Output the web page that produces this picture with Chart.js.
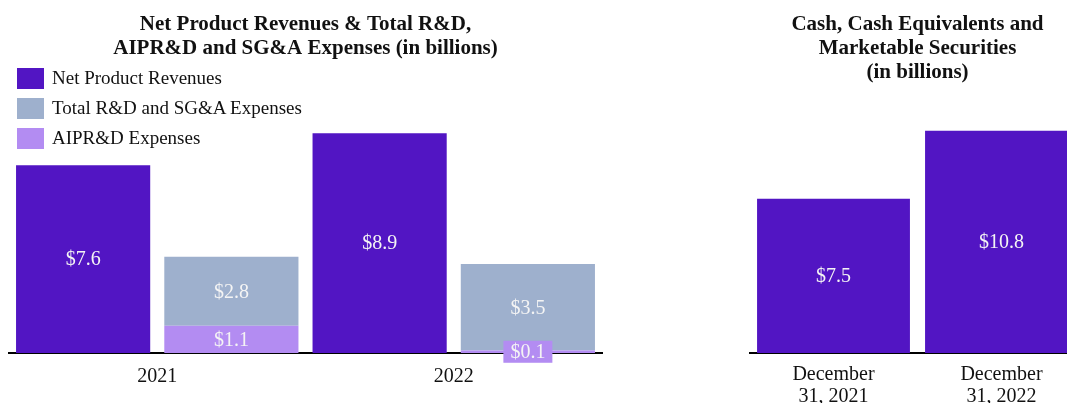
<!DOCTYPE html>
<html>
<head>
<meta charset="utf-8">
<script src="https://cdn.jsdelivr.net/npm/chart.js@4.4.1/dist/chart.umd.min.js"></script>
<style>
  html, body { margin: 0; padding: 0; background: #fff; overflow: hidden; }
  body { width: 1067px; height: 403px; position: relative; font-family: 'Liberation Serif', 'Times New Roman', serif; }
  canvas { position: absolute; top: 0; }
  #revChart { left: 0; }
  #cashChart { left: 740px; }
  .legend { position: absolute; left: 17px; top: 63px; }
  .legend-item { display: flex; align-items: center; height: 30px; }
  .legend-item span.box { width: 27px; height: 21px; margin-right: 8px; flex: none; }
  .legend-item span.txt { font-size: 19px; color: #111; white-space: nowrap; }
</style>
</head>
<body>
<canvas id="revChart" width="618" height="403"></canvas>
<canvas id="cashChart" width="360" height="403"></canvas>
<div class="legend" id="revLegend"></div>

<script>
// data
const years = ['2021', '2022'];
const netProductRevenues = [7.6, 8.9];
const rdSgaExpenses = [2.8, 3.5];
const aiprdExpenses = [1.1, 0.1];

const cashDates = [['December', '31, 2021'], ['December', '31, 2022']];
const cashBalances = [7.5, 10.8];

const PURPLE = '#5215c3';
const GREY_BLUE = '#9eb0cd';
const LILAC = '#b38cf2';
const SERIF = "'Liberation Serif', 'Times New Roman', serif";

// white value labels in the middle of each bar segment
const valueLabels = {
  id: 'valueLabels',
  afterDatasetsDraw(chart) {
    const ctx = chart.ctx;
    ctx.save();
    ctx.font = '20px ' + SERIF;
    ctx.textAlign = 'center';
    ctx.textBaseline = 'middle';
    chart.data.datasets.forEach((ds, i) => {
      const meta = chart.getDatasetMeta(i);
      meta.data.forEach((bar, j) => {
        const v = ds.data[j];
        const txt = '$' + v.toFixed(1);
        const cy = (bar.y + bar.base) / 2;
        const h = Math.abs(bar.base - bar.y);
        if (h < 20) {
          // tiny segment: label sits on a box of the series colour
          const w = ctx.measureText(txt).width + 14;
          ctx.fillStyle = ds.backgroundColor;
          ctx.fillRect(bar.x - w / 2, cy - 11, w, 22);
        }
        ctx.fillStyle = '#f4f4f4';
        ctx.fillText(txt, bar.x, cy + 1);
      });
    });
    ctx.restore();
  }
};

const titleOpts = (lines, padBottom) => ({
  display: true,
  text: lines,
  color: '#111',
  font: { family: SERIF, size: 21, weight: 'bold', lineHeight: '24px' },
  padding: { top: 13, bottom: padBottom }
});

const xAxis = (height, pad) => ({
  stacked: true,
  grid: { display: false, drawTicks: false },
  border: { display: true, color: '#000', width: 2 },
  ticks: { color: '#111', padding: pad, font: { family: SERIF, size: 20, lineHeight: '22px' }, maxRotation: 0, autoSkip: false },
  afterFit: s => { s.height = height; }
});

new Chart(document.getElementById('revChart'), {
  type: 'bar',
  data: {
    labels: years,
    datasets: [
      { label: 'Net Product Revenues', data: netProductRevenues, backgroundColor: PURPLE, stack: 'rev' },
      { label: 'AIPR&D Expenses', data: aiprdExpenses, backgroundColor: LILAC, stack: 'exp' },
      { label: 'Total R&D and SG&A Expenses', data: rdSgaExpenses, backgroundColor: GREY_BLUE, stack: 'exp' }
    ]
  },
  options: {
    responsive: false,
    animation: false,
    layout: { padding: { left: 9, right: 16, top: 0, bottom: 0 } },
    datasets: { bar: { categoryPercentage: 1.0, barPercentage: 0.905 } },
    plugins: {
      legend: { display: false },
      tooltip: { enabled: false },
      title: titleOpts(['Net Product Revenues & Total R&D,', 'AIPR&D and SG&A Expenses (in billions)'], 45)
    },
    scales: {
      x: xAxis(50, 13),
      y: { stacked: true, display: false, min: 0, max: 10 }
    }
  },
  plugins: [valueLabels]
});

new Chart(document.getElementById('cashChart'), {
  type: 'bar',
  data: {
    labels: cashDates,
    datasets: [
      { label: 'Cash, Cash Equivalents and Marketable Securities', data: cashBalances, backgroundColor: PURPLE }
    ]
  },
  options: {
    responsive: false,
    animation: false,
    layout: { padding: { left: 9.5, right: 14.5, top: 0, bottom: 0 } },
    datasets: { bar: { categoryPercentage: 1.0, barPercentage: 0.91 } },
    plugins: {
      legend: { display: false },
      tooltip: { enabled: false },
      title: titleOpts(['Cash, Cash Equivalents and', 'Marketable Securities', '(in billions)'], 21)
    },
    scales: {
      x: xAxis(50, 11),
      y: { display: false, min: 0, max: 12 }
    }
  },
  plugins: [valueLabels]
});

// legend in the reference order
const legendItems = [
  ['Net Product Revenues', PURPLE],
  ['Total R&D and SG&A Expenses', GREY_BLUE],
  ['AIPR&D Expenses', LILAC]
];
document.getElementById('revLegend').innerHTML = legendItems.map(([t, c]) =>
  `<div class="legend-item"><span class="box" style="background:${c}"></span><span class="txt">${t}</span></div>`
).join('');
</script>
</body>
</html>
